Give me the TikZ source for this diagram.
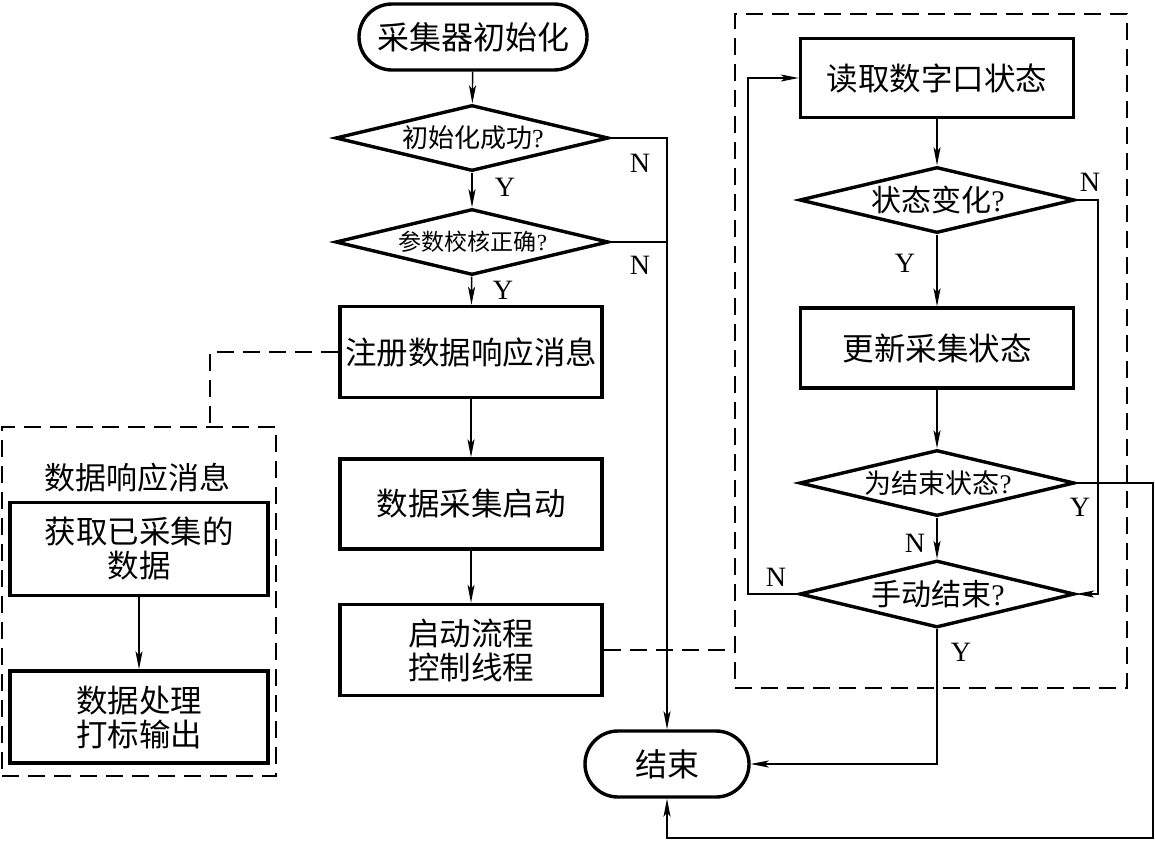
\documentclass[tikz,border=0pt]{standalone}
\usepackage{fontspec}
\setmainfont{Liberation Serif}
\newfontfamily\cjk{Noto Sans CJK SC}
\usetikzlibrary{arrows.meta,shapes.geometric}
\newcommand{\qm}{\textrm{?}}
\tikzset{
  thinln/.style={line width=1.4pt},
  arr/.style={thinln,-{Stealth[length=18pt,width=7pt,inset=4pt]}},
  dashln/.style={line width=1.5pt,dash pattern=on 17pt off 9pt},
  stepbox/.style={draw,line width=3.4pt,inner sep=0pt,align=center,font=\cjk\fontsize{31.5}{34}\selectfont},
  term/.style={draw,line width=3.4pt,inner sep=0pt,rounded corners=33pt,font=\cjk\fontsize{32}{36}\selectfont},
  dia/.style={draw,diamond,line width=3.4pt,inner sep=0pt},
  yn/.style={font=\fontsize{28}{30}\selectfont,inner sep=0pt},
  dbox/.style={draw,dashln,inner sep=0pt}
}
\begin{document}
\begin{tikzpicture}[x=1pt,y=-1pt]
\useasboundingbox[fill=white] (0,0) rectangle (1155,841);
% dashed frames
\node[dbox,minimum width=274pt,minimum height=349pt] (lbox) at (139,601.5) {};
\node[dbox,minimum width=392pt,minimum height=674pt] (rbox) at (931,351) {};
% main column
\node[term,minimum width=228pt,minimum height=66pt] (start) at (473,37) {采集器初始化};
\node[dia,minimum width=273pt,minimum height=66pt] (d1) at (472,138) {};
\node[font=\cjk\fontsize{26}{30}\selectfont,inner sep=0pt] (d1t) at (473,138) {初始化成功\qm};
\node[dia,minimum width=273pt,minimum height=66pt] (d2) at (472,242) {};
\node[font=\cjk\fontsize{23}{28}\selectfont,inner sep=0pt] (d2t) at (473,242) {参数校核正确\qm};
\node[stepbox,minimum width=262pt,minimum height=91pt] (reg) at (471,352) {注册数据响应消息};
\node[stepbox,minimum width=262pt,minimum height=90pt] (sta) at (471,504) {数据采集启动};
\node[stepbox,minimum width=262pt,minimum height=91pt] (ctl) at (471,650) {启动流程\\控制线程};
\node[term,minimum width=164pt,minimum height=66pt] (endn) at (667,764) {结束};
% left column
\node[font=\cjk\fontsize{31}{34}\selectfont,inner sep=0pt] (ltitle) at (137,478) {数据响应消息};
\node[stepbox,minimum width=258pt,minimum height=93pt] (g1) at (139,549) {获取已采集的\\数据};
\node[stepbox,minimum width=258pt,minimum height=92pt] (g2) at (139,717) {数据处理\\打标输出};
% right column
\node[stepbox,minimum width=273pt,minimum height=79pt] (rd) at (937,78) {读取数字口状态};
\node[dia,minimum width=275pt,minimum height=66pt] (sc) at (937,200) {};
\node[font=\cjk\fontsize{30}{32}\selectfont,inner sep=0pt] (sct) at (938,200) {状态变化\qm};
\node[stepbox,minimum width=273pt,minimum height=80pt] (up) at (937,348) {更新采集状态};
\node[dia,minimum width=275pt,minimum height=66pt] (ie) at (937,483) {};
\node[font=\cjk\fontsize{27}{30}\selectfont,inner sep=0pt] (iet) at (938,483) {为结束状态\qm};
\node[dia,minimum width=275pt,minimum height=67pt] (me) at (937,594) {};
\node[font=\cjk\fontsize{30}{32}\selectfont,inner sep=0pt] (met) at (938,594) {手动结束\qm};
% coordinates
\coordinate (lj) at (210,427);
\coordinate (nx) at (667,138);
\coordinate (scr) at (1098,200);
\coordinate (mel) at (748,594);
\coordinate (ier) at (1153,483);
\coordinate (bot) at (1153,838);
% connectors main
\draw[arr] (start) -- (d1);
\draw[arr] (d1) -- (d2);
\draw[arr] (d2) -- (reg);
\draw[arr] (reg) -- (sta);
\draw[arr] (sta) -- (ctl);
\draw[arr] (d1.east) -- (nx) -- (endn.north);
\draw[thinln] (d2.east) -- (d2.east -| nx);
\draw[arr] (g1) -- (g2);
% dashed links
\draw[dashln] (reg.west) -| (lj);
\draw[dashln] (ctl.east) -- (ctl.east -| rbox.west);
% right column
\draw[arr] (rd) -- (sc);
\draw[arr] (sc) -- (up);
\draw[arr] (up) -- (ie);
\draw[arr] (ie) -- (me);
\draw[arr] (sc.east) -- (scr) |- (me.east);
\draw[arr] (me.west) -- (mel) |- (rd.west);
\draw[arr] (me.south) |- (endn.east);
\draw[arr] (ie.east) -- (ier) -- (bot) -| (endn.south);
% labels
\node[yn] (y1) at (505,187) {Y};
\node[yn] (y2) at (503,290) {Y};
\node[yn] (n1) at (640,163) {N};
\node[yn] (n2) at (640,265) {N};
\node[yn] (n3) at (1090,182) {N};
\node[yn] (y3) at (905,263) {Y};
\node[yn] (y4) at (1080,507) {Y};
\node[yn] (n4) at (915,543) {N};
\node[yn] (n5) at (776,577) {N};
\node[yn] (y5) at (961,652) {Y};
\end{tikzpicture}
\end{document}
